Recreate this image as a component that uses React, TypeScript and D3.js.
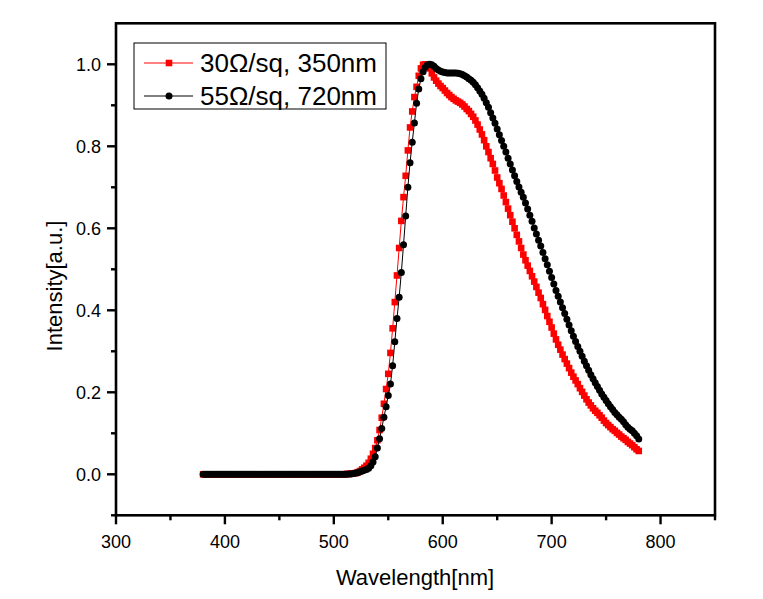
import React from "react";
import * as d3 from "d3";

const wavelengths: number[] = d3.range(380, 781, 2);

// 30Ω/sq, 350nm (red squares), values at 380..780 nm every 2 nm
const red30: number[] = [
  // 380-510
  0, 0, 0, 0, 0, 0, 0, 0, 0, 0, 0, 0, 0, 0, 0, 0, 0, 0, 0, 0,
  0, 0, 0, 0, 0, 0, 0, 0, 0, 0, 0, 0, 0, 0, 0, 0, 0, 0, 0, 0,
  0, 0, 0, 0, 0, 0, 0, 0, 0, 0, 0, 0, 0, 0, 0, 0, 0, 0, 0, 0,
  0, 0, 0, 0, 0, 0,
  // 512-558
  0.001, 0.001, 0.002, 0.002, 0.003, 0.005, 0.008, 0.012, 0.016, 0.021,
  0.028, 0.038, 0.05, 0.064, 0.083, 0.108, 0.138, 0.172, 0.208, 0.245,
  0.296, 0.356, 0.42, 0.485,
  // 560-606
  0.552, 0.618, 0.676, 0.728, 0.79, 0.846, 0.885, 0.92, 0.945, 0.972,
  0.99, 0.999, 1.0, 0.998, 0.99, 0.978, 0.968, 0.96, 0.953, 0.947,
  0.942, 0.936, 0.93, 0.925,
  // 608-654
  0.92, 0.916, 0.912, 0.909, 0.906, 0.902, 0.897, 0.891, 0.886, 0.879,
  0.872, 0.863, 0.853, 0.841, 0.829, 0.815, 0.8, 0.786, 0.771, 0.757,
  0.741, 0.724, 0.71, 0.696,
  // 656-702
  0.68, 0.664, 0.648, 0.632, 0.616, 0.6, 0.584, 0.568, 0.552, 0.536,
  0.522, 0.509, 0.496, 0.483, 0.47, 0.457, 0.443, 0.43, 0.415, 0.401,
  0.386, 0.372, 0.358, 0.343,
  // 704-750
  0.329, 0.316, 0.304, 0.292, 0.281, 0.27, 0.259, 0.248, 0.238, 0.229,
  0.22, 0.21, 0.201, 0.192, 0.183, 0.175, 0.168, 0.161, 0.155, 0.15,
  0.144, 0.138, 0.131, 0.125,
  // 752-780
  0.12, 0.115, 0.11, 0.106, 0.101, 0.097, 0.092, 0.088, 0.084, 0.079,
  0.075, 0.071, 0.066, 0.061, 0.057,
];

// 55Ω/sq, 720nm (black circles)
const black55: number[] = [
  // 380-510
  0, 0, 0, 0, 0, 0, 0, 0, 0, 0, 0, 0, 0, 0, 0, 0, 0, 0, 0, 0,
  0, 0, 0, 0, 0, 0, 0, 0, 0, 0, 0, 0, 0, 0, 0, 0, 0, 0, 0, 0,
  0, 0, 0, 0, 0, 0, 0, 0, 0, 0, 0, 0, 0, 0, 0, 0, 0, 0, 0, 0,
  0, 0, 0, 0, 0, 0,
  // 512-558
  0.0, 0.001, 0.001, 0.002, 0.003, 0.004, 0.006, 0.008, 0.01, 0.012,
  0.015, 0.021, 0.03, 0.043, 0.064, 0.087, 0.112, 0.139, 0.165, 0.192,
  0.22, 0.265, 0.323, 0.38,
  // 560-606
  0.432, 0.492, 0.56, 0.63, 0.7, 0.76, 0.81, 0.857, 0.905, 0.94,
  0.965, 0.982, 0.993, 0.999, 1.0, 0.999, 0.995, 0.99, 0.986, 0.983,
  0.981, 0.98, 0.979, 0.979,
  // 608-654
  0.979, 0.979, 0.979, 0.978, 0.977, 0.975, 0.972, 0.969, 0.965, 0.961,
  0.956, 0.95, 0.943, 0.935, 0.927, 0.917, 0.906, 0.895, 0.882, 0.869,
  0.856, 0.842, 0.828, 0.814,
  // 656-702
  0.8, 0.786, 0.771, 0.757, 0.742, 0.728, 0.714, 0.701, 0.688, 0.676,
  0.662, 0.647, 0.632, 0.617, 0.601, 0.586, 0.571, 0.557, 0.541, 0.526,
  0.511, 0.495, 0.48, 0.464,
  // 704-750
  0.448, 0.434, 0.42, 0.406, 0.392, 0.378, 0.364, 0.35, 0.337, 0.324,
  0.312, 0.3, 0.288, 0.276, 0.265, 0.254, 0.243, 0.233, 0.223, 0.214,
  0.205, 0.196, 0.188, 0.18,
  // 752-780
  0.172, 0.165, 0.158, 0.151, 0.145, 0.139, 0.134, 0.128, 0.121, 0.115,
  0.11, 0.106, 0.1, 0.094, 0.086,
];

const xMajorTicks: number[] = [300, 400, 500, 600, 700, 800];
const xMinorTicks: number[] = [350, 450, 550, 650, 750, 850];
const yMajorTicks: number[] = [0, 0.2, 0.4, 0.6, 0.8, 1.0];
const yMinorTicks: number[] = [-0.1, 0.1, 0.3, 0.5, 0.7, 0.9];
const legendLabels: string[] = ["30Ω/sq, 350nm", "55Ω/sq, 720nm"];

const FONT = "'Liberation Sans', Arial, sans-serif";

export default function App() {
  const x = d3.scaleLinear().domain([300, 850]).range([116, 715]);
  const y = d3.scaleLinear().domain([-0.1, 1.1]).range([515.3, 23.3]);

  const redPts = wavelengths.map((w, i) => [w, red30[i]] as [number, number]);
  const blackPts = wavelengths.map((w, i) => [w, black55[i]] as [number, number]);
  const line = d3
    .line<[number, number]>()
    .x((d) => x(d[0]))
    .y((d) => y(d[1]));

  const left = x.range()[0];
  const right = x.range()[1];
  const bottom = y.range()[0];
  const top = y.range()[1];
  const sq = 6.6;
  const cr = 3.5;

  return (
    <svg
      width={763}
      height={599}
      style={{ position: "absolute", left: 0, top: 0, background: "#fff" }}
      fontFamily={FONT}
    >
      <rect x={0} y={0} width={763} height={599} fill="#fff" />
      {/* data */}
      <path d={line(redPts) || ""} fill="none" stroke="#ff0000" strokeWidth={1} />
      {redPts.map((d, i) => (
        <rect
          key={"r" + i}
          x={x(d[0]) - sq / 2}
          y={y(d[1]) - sq / 2}
          width={sq}
          height={sq}
          fill="#ff0000"
        />
      ))}
      <path d={line(blackPts) || ""} fill="none" stroke="#000" strokeWidth={1} />
      {blackPts.map((d, i) => (
        <circle key={"b" + i} cx={x(d[0])} cy={y(d[1])} r={cr} fill="#000" />
      ))}

      {/* frame */}
      <rect
        x={left}
        y={top}
        width={right - left}
        height={bottom - top}
        fill="none"
        stroke="#000"
        strokeWidth={2.6}
      />
      {/* x ticks */}
      {xMajorTicks.map((t) => (
        <g key={"xm" + t}>
          <line x1={x(t)} x2={x(t)} y1={bottom} y2={bottom + 9} stroke="#000" strokeWidth={2.4} />
          <text x={x(t)} y={bottom + 33} fontSize={18} textAnchor="middle" fill="#000">
            {t}
          </text>
        </g>
      ))}
      {xMinorTicks.map((t) => (
        <line key={"xn" + t} x1={x(t)} x2={x(t)} y1={bottom} y2={bottom + 5} stroke="#000" strokeWidth={2.4} />
      ))}
      {/* y ticks */}
      {yMajorTicks.map((t) => (
        <g key={"ym" + t}>
          <line x1={left - 9} x2={left} y1={y(t)} y2={y(t)} stroke="#000" strokeWidth={2.4} />
          <text x={left - 15} y={y(t) + 6.5} fontSize={18} textAnchor="end" fill="#000">
            {d3.format(".1f")(t)}
          </text>
        </g>
      ))}
      {yMinorTicks.map((t) => (
        <line key={"yn" + t} x1={left - 5} x2={left} y1={y(t)} y2={y(t)} stroke="#000" strokeWidth={2.4} />
      ))}

      {/* axis titles */}
      <text x={415} y={585} fontSize={22} textAnchor="middle" fill="#000">
        Wavelength[nm]
      </text>
      <text
        transform={`translate(62, 286) rotate(-90)`}
        fontSize={22}
        textAnchor="middle"
        fill="#000"
      >
        Intensity[a.u.]
      </text>

      {/* legend */}
      <rect x={134} y={43} width={252} height={66} fill="#fff" stroke="#000" strokeWidth={1} />
      <line x1={144} x2={193} y1={63} y2={63} stroke="#ff0000" strokeWidth={1} />
      <rect x={169 - sq / 2} y={63 - sq / 2} width={sq} height={sq} fill="#ff0000" />
      <text x={200} y={72} fontSize={26} fill="#000">
        {legendLabels[0]}
      </text>
      <line x1={144} x2={193} y1={96} y2={96} stroke="#000" strokeWidth={1} />
      <circle cx={169} cy={96} r={cr} fill="#000" />
      <text x={200} y={105} fontSize={26} fill="#000">
        {legendLabels[1]}
      </text>
    </svg>
  );
}
